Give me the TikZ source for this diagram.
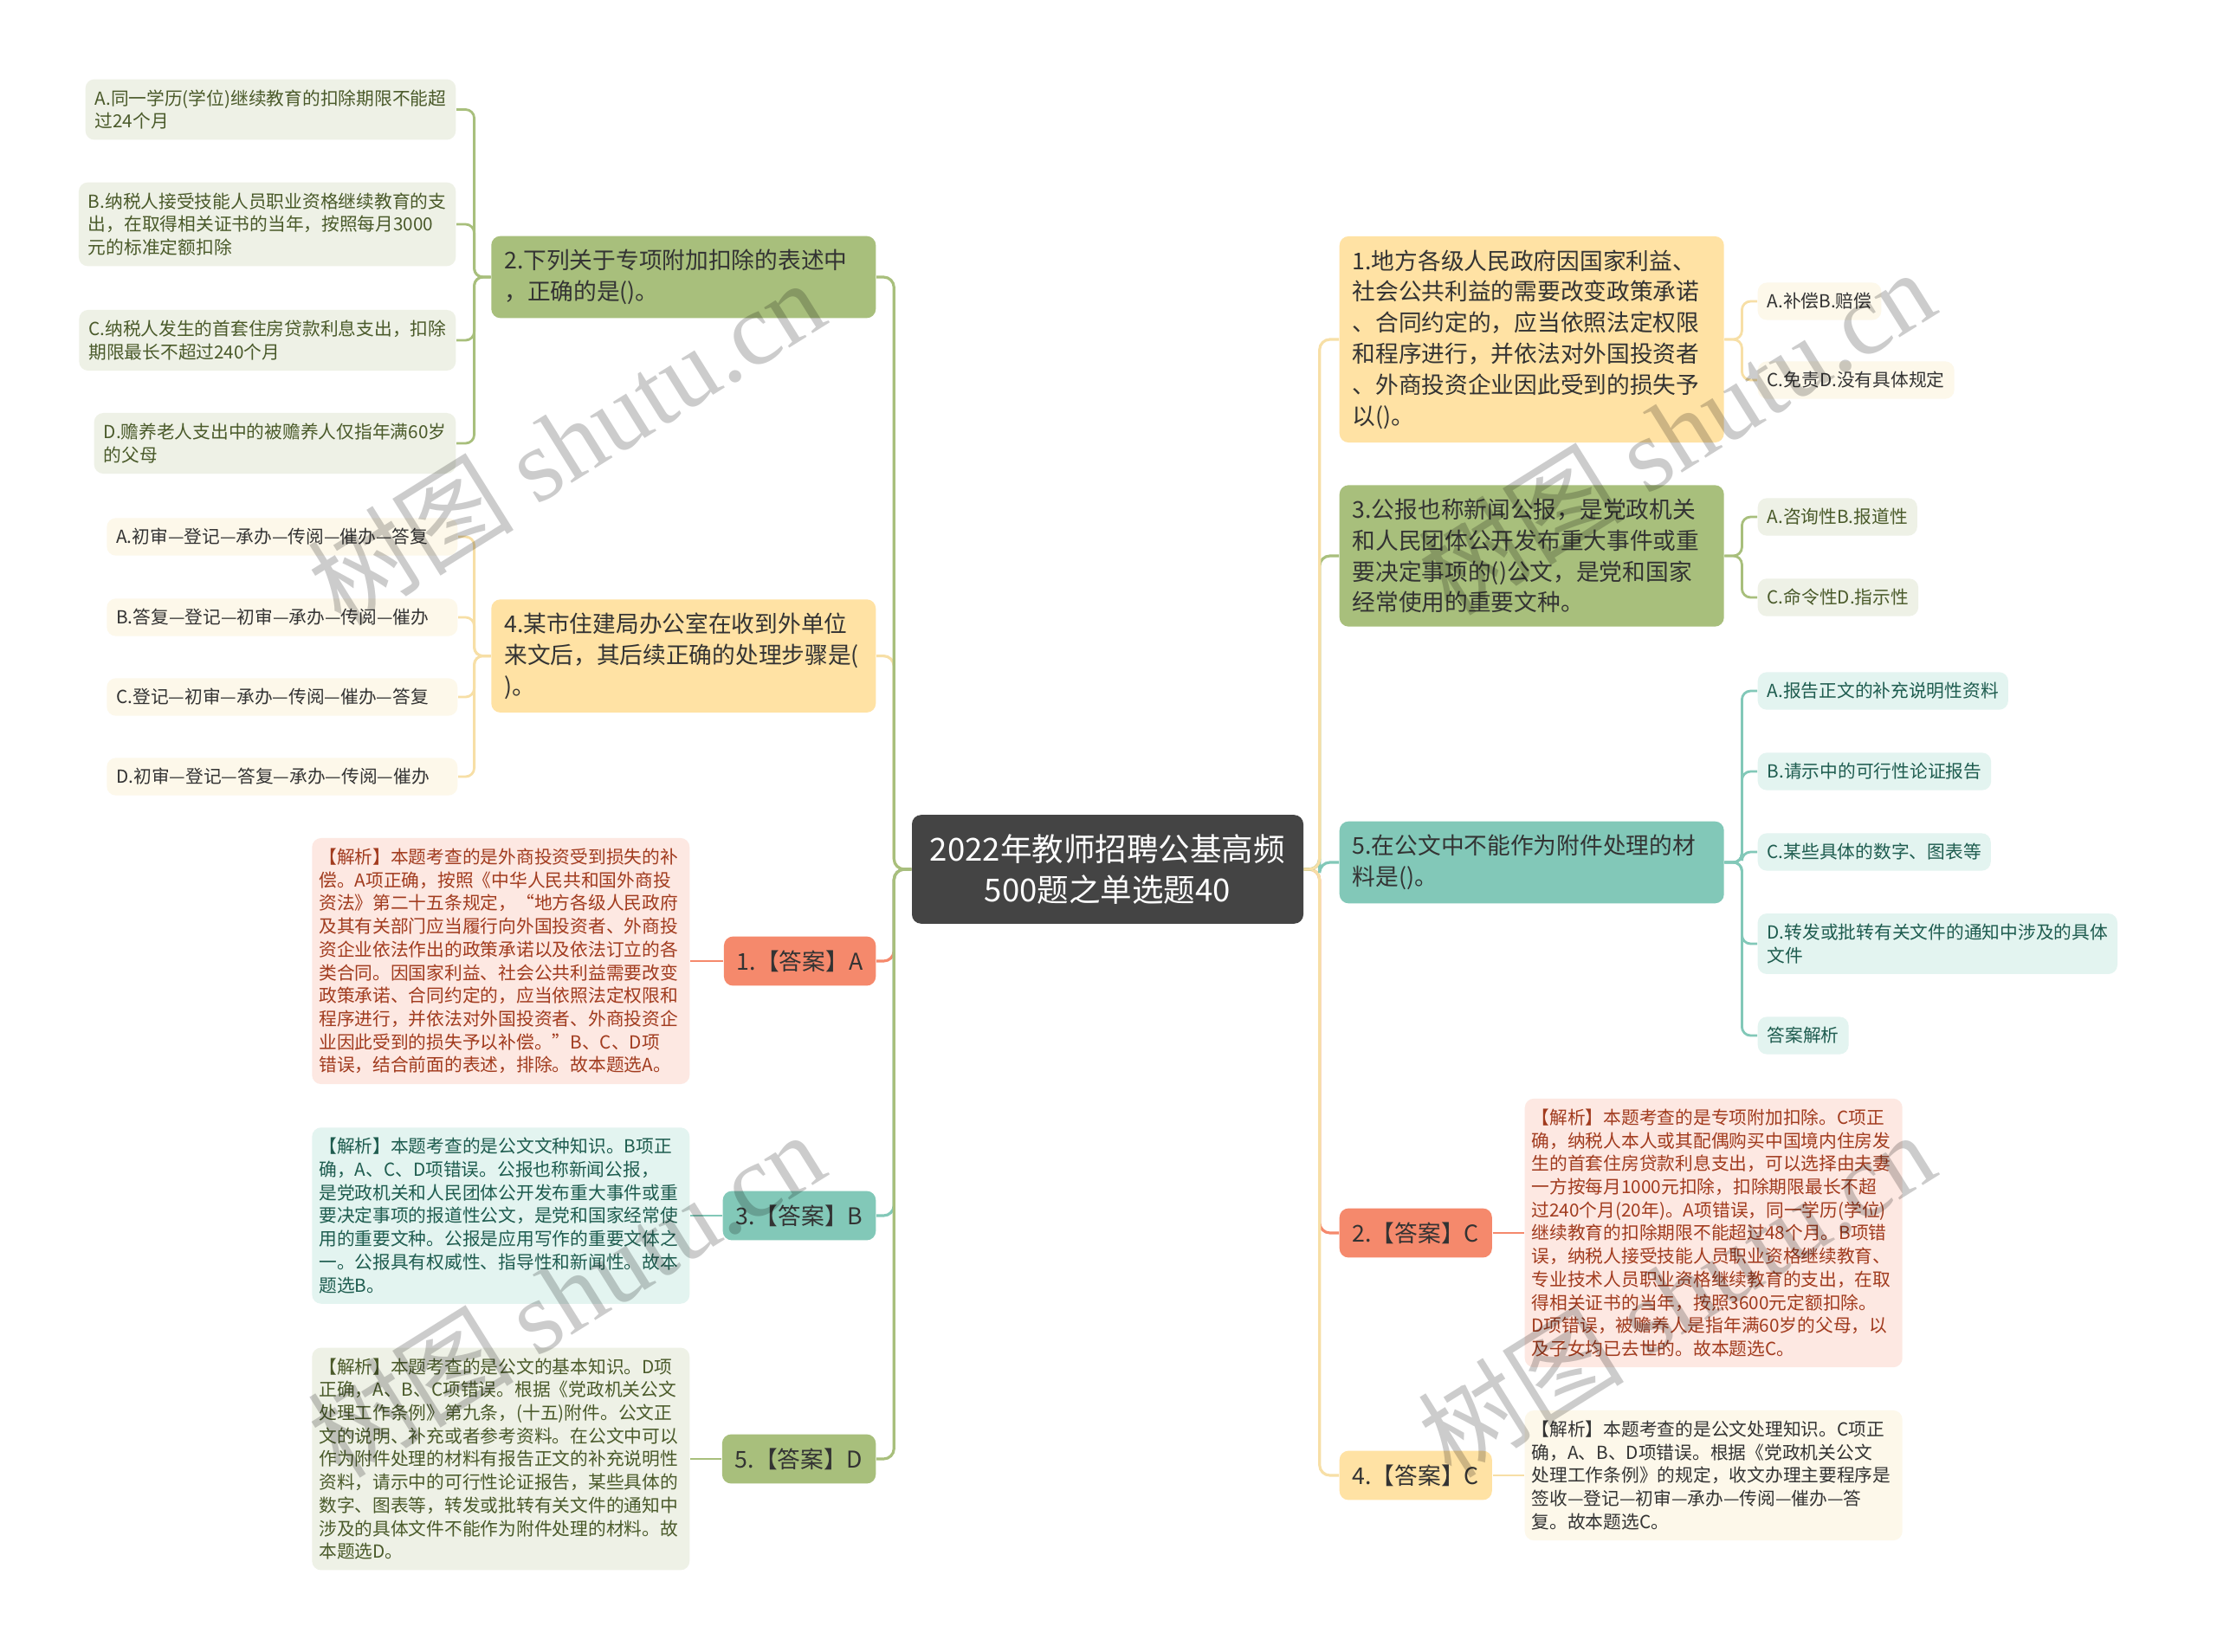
\documentclass[tikz,border=0pt]{standalone}
\usepackage{fontspec}
\setmainfont{Noto Sans CJK SC}
\newfontfamily\markfont{Liberation Serif}
\usetikzlibrary{positioning, calc}
\definecolor{mapDark}{HTML}{444444}
\definecolor{mapText}{HTML}{333333}
\definecolor{mapGreen}{HTML}{A8BF7C}
\definecolor{mapGreenSoft}{HTML}{EEF1E6}
\definecolor{mapGreenText}{HTML}{4A5A2A}
\definecolor{mapYellow}{HTML}{FFE2A4}
\definecolor{mapYellowLine}{HTML}{F7DFA6}
\definecolor{mapYellowSoft}{HTML}{FDF8EA}
\definecolor{mapTeal}{HTML}{82C8B8}
\definecolor{mapTealSoft}{HTML}{E3F4F0}
\definecolor{mapTealText}{HTML}{1E5C4F}
\definecolor{mapSalmon}{HTML}{F5896C}
\definecolor{mapSalmonSoft}{HTML}{FDE8E2}
\definecolor{mapSalmonText}{HTML}{A13B1E}

\begin{document}
\begin{tikzpicture}[
    root/.style={fill=mapDark, text=white, rounded corners=3pt, minimum width=4.52cm, align=center, inner xsep=0.2cm, inner ysep=0.22cm, font=\fontsize{10.4}{13.6}\selectfont},
    quest/.style={rounded corners=3pt, text width=4.14cm, align=left, inner xsep=0.15cm, inner ysep=0.155cm, text=mapText, font=\fontsize{7.6}{10.2}\selectfont},
    answer/.style={rounded corners=3pt, align=left, inner xsep=0.15cm, inner ysep=0.16cm, text=mapText, font=\fontsize{7.6}{10.2}\selectfont},
    option/.style={rounded corners=3pt, align=left, inner xsep=0.11cm, inner ysep=0.12cm, font=\fontsize{5.9}{7.6}\selectfont},
    optGreen/.style={option, fill=mapGreenSoft, text=mapGreenText},
    optYellow/.style={option, fill=mapYellowSoft, text=mapText},
    optTeal/.style={option, fill=mapTealSoft, text=mapTealText},
    note/.style={rounded corners=3pt, text width=4.2cm, align=left, inner xsep=0.08cm, inner ysep=0.12cm, font=\fontsize{5.9}{7.6}\selectfont},
    noteSalmon/.style={note, fill=mapSalmonSoft, text=mapSalmonText},
    noteTeal/.style={note, fill=mapTealSoft, text=mapTealText},
    noteGreen/.style={note, fill=mapGreenSoft, text=mapGreenText},
    noteYellow/.style={note, fill=mapYellowSoft, text=mapText},
    link/.style={line width=0.9pt, rounded corners=0.12cm},
    twig/.style={line width=0.8pt, rounded corners=0.1cm},
    stamp/.style={rotate=32, text=black, text opacity=0.2, font=\fontsize{34}{34}\selectfont},
]
\fill[white] (0,0) rectangle (25.6,-19.08);
\useasboundingbox (0,0) rectangle (25.6,-19.08);

\node[root] (root) at (12.79,-10.04) {2022年教师招聘公基高频\\500题之单选题40};

% left branch
\node[quest, fill=mapGreen, anchor=east]  (q2) at (10.12,-3.20) {2.下列关于专项附加扣除的表述中\\，正确的是()。};
\node[optGreen, anchor=east] (q2a) at (5.27,-1.265) {A.同一学历(学位)继续教育的扣除期限不能超\\过24个月};
\node[optGreen, anchor=east] (q2b) at (5.27,-2.59) {B.纳税人接受技能人员职业资格继续教育的支\\出，在取得相关证书的当年，按照每月3000\\元的标准定额扣除};
\node[optGreen, anchor=east] (q2c) at (5.27,-3.93) {C.纳税人发生的首套住房贷款利息支出，扣除\\期限最长不超过240个月};
\node[optGreen, anchor=east] (q2d) at (5.27,-5.12) {D.赡养老人支出中的被赡养人仅指年满60岁\\的父母};

\node[quest, fill=mapYellow, anchor=east] (q4) at (10.12,-7.576) {4.某市住建局办公室在收到外单位\\来文后，其后续正确的处理步骤是(\\)。};
\node[optYellow, text width=3.83cm, anchor=east] (q4a) at (5.29,-6.20) {A.初审—登记—承办—传阅—催办—答复};
\node[optYellow, text width=3.83cm, anchor=east] (q4b) at (5.29,-7.13) {B.答复—登记—初审—承办—传阅—催办};
\node[optYellow, text width=3.83cm, anchor=east] (q4c) at (5.29,-8.05) {C.登记—初审—承办—传阅—催办—答复};
\node[optYellow, text width=3.83cm, anchor=east] (q4d) at (5.29,-8.97) {D.初审—登记—答复—承办—传阅—催办};

\node[answer, fill=mapSalmon, anchor=east] (a1) at (10.12,-11.10) {1.【答案】A};
\node[noteSalmon, anchor=east] (e1) at (7.97,-11.10) {【解析】本题考查的是外商投资受到损失的补\\偿。A项正确，按照《中华人民共和国外商投\\资法》第二十五条规定，“地方各级人民政府\\及其有关部门应当履行向外国投资者、外商投\\资企业依法作出的政策承诺以及依法订立的各\\类合同。因国家利益、社会公共利益需要改变\\政策承诺、合同约定的，应当依照法定权限和\\程序进行，并依法对外国投资者、外商投资企\\业因此受到的损失予以补偿。”B、C、D项\\错误，结合前面的表述，排除。故本题选A。};

\node[answer, fill=mapTeal, anchor=east] (a3) at (10.12,-14.04) {3.【答案】B};
\node[noteTeal, anchor=east] (e3) at (7.97,-14.04) {【解析】本题考查的是公文文种知识。B项正\\确，A、C、D项错误。公报也称新闻公报，\\是党政机关和人民团体公开发布重大事件或重\\要决定事项的报道性公文，是党和国家经常使\\用的重要文种。公报是应用写作的重要文体之\\一。公报具有权威性、指导性和新闻性。故本\\题选B。};

\node[answer, fill=mapGreen, anchor=east] (a5) at (10.12,-16.85) {5.【答案】D};
\node[noteGreen, anchor=east] (e5) at (7.97,-16.85) {【解析】本题考查的是公文的基本知识。D项\\正确，A、B、C项错误。根据《党政机关公文\\处理工作条例》第九条，(十五)附件。公文正\\文的说明、补充或者参考资料。在公文中可以\\作为附件处理的材料有报告正文的补充说明性\\资料，请示中的可行性论证报告，某些具体的\\数字、图表等，转发或批转有关文件的通知中\\涉及的具体文件不能作为附件处理的材料。故\\本题选D。};

% right branch
\node[quest, fill=mapYellow, anchor=west] (q1) at (15.46,-3.92) {1.地方各级人民政府因国家利益、\\社会公共利益的需要改变政策承诺\\、合同约定的，应当依照法定权限\\和程序进行，并依法对外国投资者\\、外商投资企业因此受到的损失予\\以()。};
\node[optYellow, anchor=west] (q1a) at (20.29,-3.48) {A.补偿B.赔偿};
\node[optYellow, anchor=west] (q1b) at (20.29,-4.39) {C.免责D.没有具体规定};

\node[quest, fill=mapGreen, anchor=west] (q3) at (15.46,-6.42) {3.公报也称新闻公报，是党政机关\\和人民团体公开发布重大事件或重\\要决定事项的()公文，是党和国家\\经常使用的重要文种。};
\node[optGreen, anchor=west] (q3a) at (20.29,-5.97) {A.咨询性B.报道性};
\node[optGreen, anchor=west] (q3b) at (20.29,-6.90) {C.命令性D.指示性};

\node[quest, fill=mapTeal, anchor=west] (q5) at (15.46,-9.96) {5.在公文中不能作为附件处理的材\\料是()。};
\node[optTeal, anchor=west] (q5a) at (20.29,-7.98) {A.报告正文的补充说明性资料};
\node[optTeal, anchor=west] (q5b) at (20.29,-8.91) {B.请示中的可行性论证报告};
\node[optTeal, anchor=west] (q5c) at (20.29,-9.84) {C.某些具体的数字、图表等};
\node[optTeal, anchor=west] (q5d) at (20.29,-10.90) {D.转发或批转有关文件的通知中涉及的具体\\文件};
\node[optTeal, anchor=west] (q5e) at (20.29,-11.96) {答案解析};

\node[answer, fill=mapSalmon, anchor=west] (a2) at (15.46,-14.24) {2.【答案】C};
\node[noteSalmon, anchor=west] (e2) at (17.60,-14.24) {【解析】本题考查的是专项附加扣除。C项正\\确，纳税人本人或其配偶购买中国境内住房发\\生的首套住房贷款利息支出，可以选择由夫妻\\一方按每月1000元扣除，扣除期限最长不超\\过240个月(20年)。A项错误，同一学历(学位)\\继续教育的扣除期限不能超过48个月。B项错\\误，纳税人接受技能人员职业资格继续教育、\\专业技术人员职业资格继续教育的支出，在取\\得相关证书的当年，按照3600元定额扣除。\\D项错误，被赡养人是指年满60岁的父母，以\\及子女均已去世的。故本题选C。};

\node[answer, fill=mapYellow, anchor=west] (a4) at (15.46,-17.04) {4.【答案】C};
\node[noteYellow, anchor=west] (e4) at (17.60,-17.04) {【解析】本题考查的是公文处理知识。C项正\\确，A、B、D项错误。根据《党政机关公文\\处理工作条例》的规定，收文办理主要程序是\\签收—登记—初审—承办—传阅—催办—答\\复。故本题选C。};

% trunk links
\draw[link, mapYellowLine] (root.west) -- ++(-0.2,0) |- (q4.east);
\draw[link, mapSalmon]     (root.west) -- ++(-0.2,0) |- (a1.east);
\draw[link, mapTeal]       (root.west) -- ++(-0.2,0) |- (a3.east);
\draw[link, mapGreen]      (root.west) -- ++(-0.2,0) |- (q2.east);
\draw[link, mapGreen]      (root.west) -- ++(-0.2,0) |- (a5.east);
\draw[link, mapSalmon]     (root.east) -- ++(0.18,0) |- (a2.west);
\draw[link, mapYellowLine] (root.east) -- ++(0.18,0) |- (a4.west);
\draw[link, mapTeal]       (root.east) -- ++(0.18,0) |- (q5.west);
\draw[link, mapGreen]      (root.east) -- ++(0.18,0) |- (q3.west);
\draw[link, mapYellowLine] (root.east) -- ++(0.18,0) |- (q1.west);

% option twigs
\foreach \o in {q2a,q2b,q2c,q2d}
  \draw[twig, mapGreen] (q2.west) -- ++(-0.19,0) |- (\o.east);
\foreach \o in {q4a,q4b,q4c,q4d}
  \draw[twig, mapYellowLine] (q4.west) -- ++(-0.19,0) |- (\o.east);
\foreach \o in {q1a,q1b}
  \draw[twig, mapYellowLine] (q1.east) -- ++(0.2,0) |- (\o.west);
\foreach \o in {q3a,q3b}
  \draw[twig, mapGreen] (q3.east) -- ++(0.2,0) |- (\o.west);
\foreach \o in {q5a,q5b,q5c,q5d,q5e}
  \draw[twig, mapTeal] (q5.east) -- ++(0.2,0) |- (\o.west);

% answer to note
\draw[twig, mapSalmon]     (a1.west) -- (a1.west -| e1.east);
\draw[twig, mapTeal]       (a3.west) -- (a3.west -| e3.east);
\draw[twig, mapGreen]      (a5.west) -- (a5.west -| e5.east);
\draw[twig, mapSalmon]     (a2.east) -- (a2.east -| e2.west);
\draw[twig, mapYellowLine] (a4.east) -- (a4.east -| e4.west);

% watermark
\foreach \wx/\wy [count=\i] in {6.53/-5.10, 19.35/-4.98, 6.53/-14.94, 19.35/-14.94}
  \node[stamp] (wm\i) at (\wx,\wy) {树图 {\markfont shutu.cn}};
\end{tikzpicture}
\end{document}
